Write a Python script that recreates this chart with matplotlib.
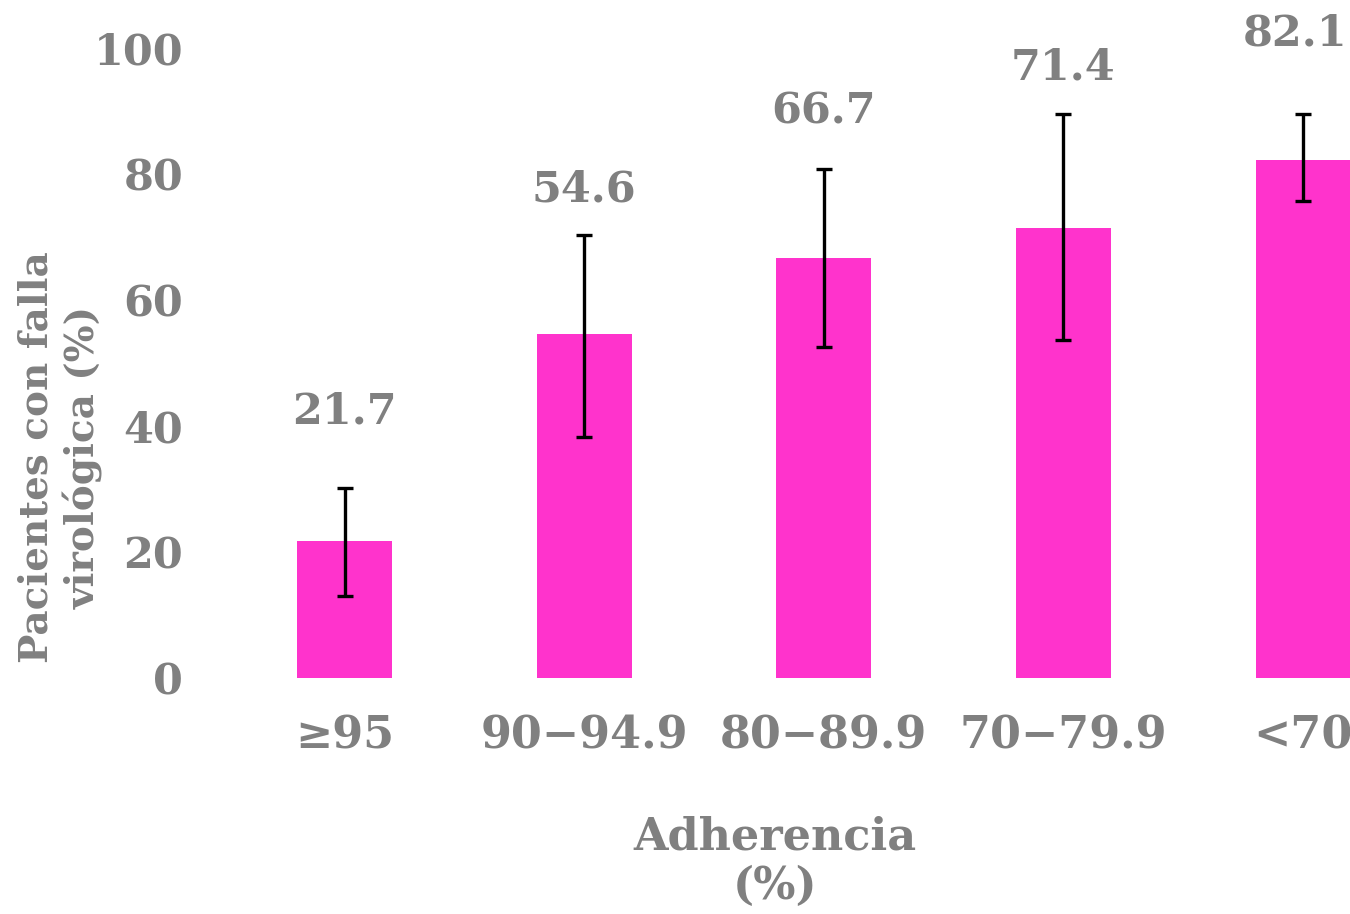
import matplotlib
matplotlib.use('Agg')
import matplotlib.pyplot as plt
import numpy as np

# data
categories = ['≥95', '90−94.9', '80−89.9', '70−79.9', '<70']
values = [21.7, 54.6, 66.7, 71.4, 82.1]
err_low = [13.0, 38.3, 52.5, 53.7, 75.6]
err_high = [30.2, 70.3, 80.8, 89.4, 89.4]
yticks = [0, 20, 40, 60, 80, 100]

gray = '#808080'
pink = '#FF33CC'
plt.rcParams['font.family'] = ['DejaVu Serif']
plt.rcParams['font.weight'] = 'bold'

fig = plt.figure(figsize=(13.5, 9.14), dpi=100)
ax = fig.add_axes([0.148, 0.258, 0.852, 0.69])

x = np.arange(len(categories))
vals = np.array(values)
yerr = [vals - np.array(err_low), np.array(err_high) - vals]
ax.bar(x, vals, width=0.396, color=pink)
ax.errorbar(x, vals, yerr=yerr, fmt='none', ecolor='black', elinewidth=2.4,
            capsize=6, capthick=2.4)

# value labels above the error bars (offsets in points, tuned by eye)
label_off = [(0, 55), (0, 33), (0, 41), (0, 34), (-6, 58)]
for xi, v, hi, off in zip(x, values, err_high, label_off):
    ax.annotate(f'{v}', (xi, hi), xytext=off, textcoords='offset points',
                ha='center', va='center', fontsize=31, color=gray,
                fontweight='bold', annotation_clip=False)

ax.set_xlim(-0.604, 4.196)
ax.set_ylim(0, 100)
ax.set_yticks(yticks)
ax.set_yticklabels([str(t) for t in yticks], fontsize=31, color=gray,
                   fontweight='bold')
ax.set_xticks(x)
ax.set_xticklabels(categories, fontsize=32, color=gray, fontweight='bold')
ax.tick_params(length=0)
ax.tick_params(axis='y', pad=12)
ax.tick_params(axis='x', pad=26)
for s in ax.spines.values():
    s.set_visible(False)

ax.set_xlabel('Adherencia\n(%)', fontsize=32, color=gray, fontweight='bold',
              labelpad=42, linespacing=1.2)
fig.text(0.045, 0.5, 'Pacientes con falla\nvirológica (%)', rotation=90,
         ha='center', va='center', fontsize=28, color=gray,
         fontweight='bold', linespacing=1.25)

fig.savefig('out.png', dpi=100)
